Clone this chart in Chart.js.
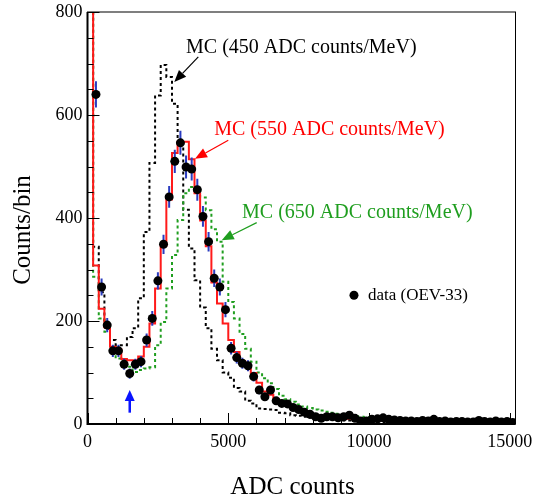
<!DOCTYPE html>
<html>
<head>
<meta charset="utf-8">
<title>ADC counts</title>
<script src="https://cdn.jsdelivr.net/npm/chart.js@4.4.0/dist/chart.umd.min.js"></script>
<style>
    html, body { margin: 0; padding: 0; background: #fff; }
</style>
</head>
<body>
<canvas id="myChart" width="535" height="497"></canvas>
<script>
const anchoBin = 200;
const xMax = 15200;
const yMax = 800;

// cuentas por bin (bins de 200 ADC desde 0), null = fuera de escala
const datosOEV = [
    null, 640, 266, 192, 142, 142, 116, 98, 116, 121,
    163, 205, 278, 349, 441, 510, 546, 499, 495, 455,
    403, 354, 283, 266, 222, 147, 129, 118, 113, 92,
    66, 53, 66, 45, 40, 39, 32, 28, 23, 19,
    14, 11, 14, 14, 12, 14, 17, 11, 6, 6,
    9, 10, 12, 9, 8, 7, 6, 6, 5, 7,
    6, 9, 5, 6, 4, 5, 5, 4, 4, 7,
    5, 4, 6, 4, 5, 3
];

const mc450 = [
    1500, 344, 256, 185, 163, 153, 153, 169, 186, 244,
    373, 507, 638, 697, 674, 622, 551, 416, 341, 279,
    226, 186, 146, 124, 100, 90, 70, 63, 45, 40,
    30, 29, 28, 27, 22, 21, 17, 16, 14, 12,
    11, 10, 9, 8, 8, 7, 7, 6, 6, 5,
    5, 5, 4, 4, 4, 4, 4, 4, 3, 3,
    3, 3, 3, 3, 3, 3, 3, 2, 2, 2,
    2, 2, 2, 2, 2, 2
];

const mc550 = [
    1500, 308, 224, 188, 150, 145, 126, 124, 124, 131,
    150, 195, 263, 346, 436, 526, 548, 548, 514, 448,
    395, 345, 275, 234, 195, 163, 140, 122, 111, 99,
    80, 63, 57, 48, 42, 38, 33, 28, 24, 20,
    17, 15, 14, 13, 12, 11, 10, 9, 9, 8,
    8, 7, 7, 7, 6, 6, 6, 5, 5, 5,
    5, 5, 4, 4, 4, 4, 4, 3, 2, 3,
    3, 3, 3, 3, 2, 2
];

const mc650 = [
    1500, 286, 205, 179, 150, 127, 121, 111, 101, 105,
    108, 110, 153, 198, 263, 328, 396, 448, 460, 458,
    440, 415, 378, 354, 276, 237, 205, 175, 146, 121,
    100, 89, 79, 68, 55, 48, 43, 38, 34, 31,
    28, 26, 24, 22, 20, 18, 17, 15, 14, 13,
    11, 10, 9, 8, 7, 7, 6, 6, 5, 5,
    5, 4, 4, 4, 4, 4, 3, 3, 3, 3,
    3, 3, 3, 3, 3, 2
];

const xTickLabels = [0, 5000, 10000, 15000];
const yTickLabels = [0, 200, 400, 600, 800];

const fuente = 'Liberation Serif, Times New Roman, serif';
const verde = '#1f9e1f';

// textos y flechas, en unidades de los ejes
const etiquetasMC = [
    { texto: 'MC (450 ADC counts/MeV)', color: '#000000', x: 3500, y: 720, desde: [3935, 713], hasta: [3082, 664] },
    { texto: 'MC (550 ADC counts/MeV)', color: '#ff0000', x: 4500, y: 561, desde: [5000, 551], hasta: [3817, 515] },
    { texto: 'MC (650 ADC counts/MeV)', color: verde, x: 5490, y: 400, desde: [6009, 391], hasta: [4766, 357] }
];


function puntosHisto(valores) {
    const pts = valores.map((v, i) => ({ x: i * anchoBin, y: v }));
    pts.push({ x: valores.length * anchoBin, y: valores[valores.length - 1] });
    return pts;
}

function puntosDatos(valores) {
    return valores.map((v, i) => ({ x: i * anchoBin + anchoBin / 2, y: v }));
}

function flecha(ctx, x0, y0, x1, y1, color, largo, ancho, grosor) {
    const ang = Math.atan2(y1 - y0, x1 - x0);
    const bx = x1 - largo * Math.cos(ang);
    const by = y1 - largo * Math.sin(ang);
    ctx.strokeStyle = color;
    ctx.fillStyle = color;
    ctx.lineWidth = grosor;
    ctx.setLineDash([]);
    ctx.beginPath();
    ctx.moveTo(x0, y0);
    ctx.lineTo(bx, by);
    ctx.stroke();
    ctx.beginPath();
    ctx.moveTo(x1, y1);
    ctx.lineTo(bx + ancho * Math.sin(ang), by - ancho * Math.cos(ang));
    ctx.lineTo(bx - ancho * Math.sin(ang), by + ancho * Math.cos(ang));
    ctx.closePath();
    ctx.fill();
}

const barrasError = {
    id: 'barrasError',
    beforeDatasetDraw(chart, args) {
        if (args.index !== 0) return;
        const { ctx, chartArea, scales: { x, y } } = chart;
        ctx.save();
        ctx.beginPath();
        ctx.rect(chartArea.left, chartArea.top, chartArea.width, chartArea.height);
        ctx.clip();
        ctx.strokeStyle = '#2a3cc0';
        ctx.lineWidth = 2;
        datosOEV.forEach((v, i) => {
            if (v === null) return;
            const err = Math.sqrt(v);
            const px = x.getPixelForValue(i * anchoBin + anchoBin / 2);
            ctx.beginPath();
            ctx.moveTo(px, y.getPixelForValue(v + err));
            ctx.lineTo(px, y.getPixelForValue(v - err));
            ctx.stroke();
        });
        ctx.restore();
    }
};

const marcoRoot = {
    id: 'marcoRoot',
    afterDatasetsDraw(chart) {
        const { ctx, chartArea: a, scales: { x, y } } = chart;
        ctx.save();
        ctx.setLineDash([]);
        ctx.strokeStyle = '#000';

        // ticks hacia dentro
        ctx.lineWidth = 1;
        for (let v = 0; v <= 15000; v += 1000) {
            const px = Math.round(x.getPixelForValue(v)) + 0.5;
            const largo = v % 5000 === 0 ? 11 : 6;
            ctx.beginPath();
            ctx.moveTo(px, a.bottom);
            ctx.lineTo(px, a.bottom - largo);
            ctx.stroke();
        }
        for (let v = 0; v <= yMax; v += 50) {
            const py = Math.round(y.getPixelForValue(v)) + 0.5;
            const largo = v % 200 === 0 ? 12 : 6;
            ctx.beginPath();
            ctx.moveTo(a.left, py);
            ctx.lineTo(a.left + largo, py);
            ctx.stroke();
        }

        // marco
        ctx.strokeRect(a.left, a.top, a.right - a.left, a.bottom - a.top);
        ctx.lineWidth = 2;
        ctx.beginPath();
        ctx.moveTo(a.left, a.top);
        ctx.lineTo(a.left, a.bottom);
        ctx.lineTo(a.right, a.bottom);
        ctx.stroke();
        ctx.restore();
    },
    afterDraw(chart) {
        const { ctx, chartArea: a, scales: { x, y } } = chart;
        ctx.save();

        etiquetasMC.forEach(e => {
            ctx.font = '20px ' + fuente;
            ctx.fillStyle = e.color;
            ctx.textBaseline = 'alphabetic';
            ctx.textAlign = 'left';
            ctx.fillText(e.texto, x.getPixelForValue(e.x), y.getPixelForValue(e.y));
            flecha(ctx, x.getPixelForValue(e.desde[0]), y.getPixelForValue(e.desde[1]),
                x.getPixelForValue(e.hasta[0]), y.getPixelForValue(e.hasta[1]), e.color, 12, 5, 1.2);
        });

        // flecha azul bajo el minimo
        flecha(ctx, x.getPixelForValue(1500), y.getPixelForValue(22),
            x.getPixelForValue(1500), y.getPixelForValue(66), '#0a14ff', 11, 5, 2.5);

        // leyenda
        ctx.fillStyle = '#000';
        ctx.beginPath();
        ctx.arc(x.getPixelForValue(9464), y.getPixelForValue(250), 4.5, 0, Math.PI * 2);
        ctx.fill();
        ctx.font = '17px ' + fuente;
        ctx.textBaseline = 'middle';
        ctx.fillText('data (OEV-33)', x.getPixelForValue(9961), y.getPixelForValue(250));

        // titulos de ejes
        ctx.font = '25px ' + fuente;
        ctx.textAlign = 'center';
        ctx.textBaseline = 'middle';
        ctx.fillText('ADC counts', a.left + 205, 487);
        ctx.translate(23, a.top + 218);
        ctx.rotate(-Math.PI / 2);
        ctx.fillText('Counts/bin', 0, 0);
        ctx.restore();
    }
};

const config = {
    type: 'line',
    data: {
        datasets: [
            {
                label: 'data (OEV-33)',
                data: puntosDatos(datosOEV),
                showLine: false,
                pointRadius: 4.5,
                pointBackgroundColor: '#000',
                pointBorderWidth: 0,
                spanGaps: false
            },
            {
                label: 'MC (550 ADC counts/MeV)',
                data: puntosHisto(mc550),
                stepped: 'before',
                borderColor: '#ff1a1a',
                borderWidth: 2,
                pointRadius: 0,
                fill: false
            },
            {
                label: 'MC (650 ADC counts/MeV)',
                data: puntosHisto(mc650),
                stepped: 'before',
                borderColor: verde,
                borderWidth: 2,
                borderDash: [3, 3],
                pointRadius: 0,
                fill: false
            },
            {
                label: 'MC (450 ADC counts/MeV)',
                data: puntosHisto(mc450),
                stepped: 'before',
                borderColor: '#000',
                borderWidth: 2,
                borderDash: [3, 3],
                pointRadius: 0,
                fill: false
            }
        ]
    },
    options: {
        responsive: false,
        animation: false,
        layout: { padding: { left: 0, top: 12, right: 19.5, bottom: 0 } },
        plugins: {
            legend: { display: false },
            tooltip: { enabled: false }
        },
        scales: {
            x: {
                type: 'linear',
                min: 0,
                max: xMax,
                afterBuildTicks: s => { s.ticks = xTickLabels.map(v => ({ value: v })); },
                afterFit: s => { s.height = 73; s.paddingLeft = 0; s.paddingRight = 0; },
                grid: { display: false, drawTicks: false },
                border: { display: false },
                ticks: {
                    padding: 7,
                    color: '#000',
                    maxRotation: 0,
                    autoSkip: false,
                    font: { family: fuente, size: 18 },
                    callback: v => String(v)
                }
            },
            y: {
                type: 'linear',
                min: 0,
                max: yMax,
                afterBuildTicks: s => { s.ticks = yTickLabels.map(v => ({ value: v })); },
                afterFit: s => { s.width = 87.5; s.paddingTop = 0; s.paddingBottom = 0; },
                grid: { display: false, drawTicks: false },
                border: { display: false },
                ticks: {
                    padding: 5,
                    color: '#000',
                    autoSkip: false,
                    font: { family: fuente, size: 18 },
                    callback: v => String(v)
                }
            }
        }
    },
    plugins: [barrasError, marcoRoot]
};

window.myChart = new Chart(document.getElementById('myChart'), config);
</script>
</body>
</html>
